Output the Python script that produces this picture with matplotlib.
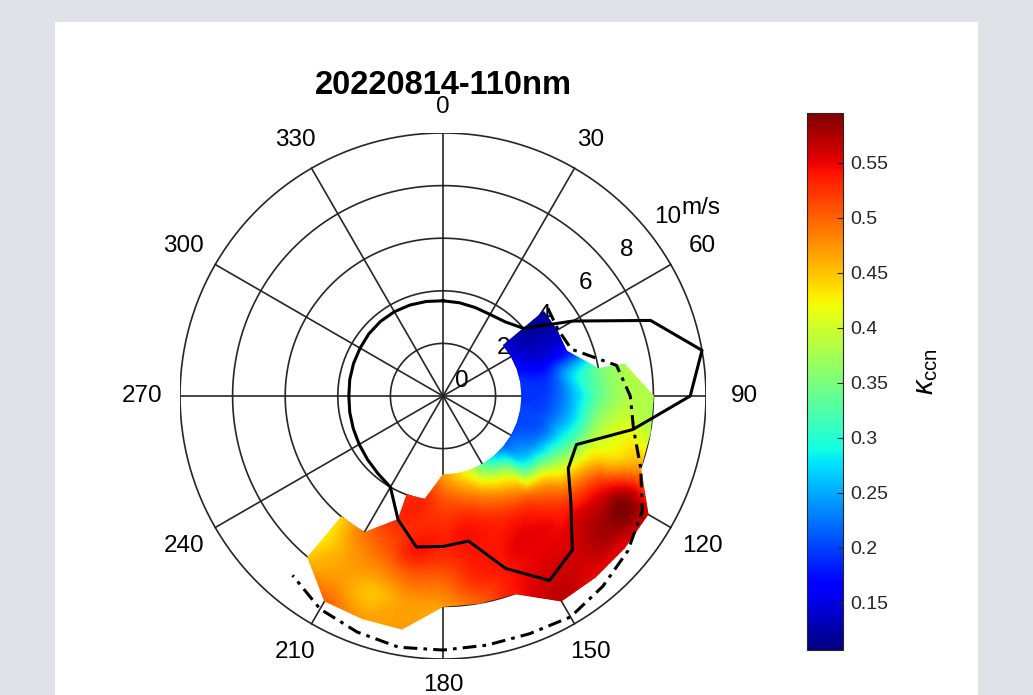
import numpy as np
import matplotlib
matplotlib.use("Agg")
import matplotlib.pyplot as plt
import matplotlib.tri as mtri
from matplotlib.patches import Rectangle

plt.rcParams['font.family'] = ['Liberation Sans', 'DejaVu Sans']
plt.rcParams['mathtext.fontset'] = 'custom'
plt.rcParams['mathtext.rm'] = 'Liberation Sans'
plt.rcParams['mathtext.it'] = 'Liberation Sans:italic'

TITLE = '20220814-110nm'

# gridded kappa field: wind direction (deg, clockwise from N) x wind speed (m/s)
directions = [50, 60, 70, 80, 90, 100, 110, 120, 130, 140, 150, 160, 170, 180, 190, 200, 210, 220]
speeds = [3, 4, 5, 6, 7, 8, 9]
nan = np.nan
kappa = [
    [0.14, 0.12, 0.12, nan, nan, nan, nan],   # 50
    [0.15, 0.13, 0.13, nan, nan, nan, nan],   # 60
    [0.17, 0.15, 0.17, nan, nan, nan, nan],   # 70
    [0.19, 0.19, 0.27, 0.34, 0.38, nan, nan],  # 80
    [0.19, 0.20, 0.26, 0.34, 0.38, 0.38, nan],  # 90
    [0.20, 0.21, 0.27, 0.37, 0.41, 0.39, nan],  # 100
    [0.20, 0.22, 0.31, 0.41, 0.44, 0.47, nan],  # 110
    [0.21, 0.25, 0.37, 0.47, 0.54, 0.59, 0.56],  # 120
    [0.22, 0.29, 0.45, 0.51, 0.56, 0.58, 0.55],  # 130
    [0.27, 0.41, 0.50, 0.54, 0.55, 0.56, 0.55],  # 140
    [0.33, 0.45, 0.52, 0.55, 0.55, 0.56, 0.57],  # 150
    [0.40, 0.48, 0.53, 0.54, 0.54, 0.54, nan],  # 160
    [0.44, 0.50, 0.54, 0.54, 0.53, 0.50, nan],  # 170
    [0.47, 0.51, 0.53, 0.53, 0.50, 0.47, nan],  # 180
    [nan, 0.53, 0.53, 0.54, 0.50, 0.47, 0.47],  # 190
    [nan, 0.53, 0.53, 0.51, 0.48, 0.45, 0.47],  # 200
    [nan, nan, nan, 0.49, 0.47, 0.47, 0.50],  # 210
    [nan, nan, nan, 0.44, 0.43, 0.45, nan],  # 220
]

# solid contour (closed)
solid_dir = [0, 10, 20, 30, 40, 50, 60, 70, 80, 90, 100, 110, 120, 130, 140, 150, 160, 170,
             180, 190, 200, 210, 220, 230, 240, 250, 260, 270, 280, 290, 300, 310, 320, 330, 340, 350]
solid_speed = [3.62, 3.6, 3.58, 3.58, 3.68, 4.0, 5.7, 8.4, 10.0, 9.4, 7.33, 5.4, 5.5, 6.35, 7.65, 8.1, 6.98, 5.6,
               5.72, 5.83, 5.0, 4.0, 3.85, 3.75, 3.68, 3.63, 3.6, 3.58, 3.6, 3.62, 3.64, 3.68, 3.7, 3.7, 3.68, 3.65]

# dash-dot contour (open)
dash_dir = [50, 60, 70, 80, 90, 100, 110, 120, 130, 140, 150, 160, 170, 180, 190, 200, 210, 220]
dash_speed = [5.2, 5.05, 5.2, 6.7, 7.12, 7.36, 8.0, 8.75, 9.17, 9.45, 9.7, 9.62, 9.62, 9.66, 9.7, 9.55, 9.35, 8.9]

angle_ticks = [0, 30, 60, 90, 120, 150, 180, 210, 240, 270, 300, 330]
ring_ticks = [2, 4, 6, 8, 10]
ring_labels = [0, 2, 4, 6, 8, 10]
cbar_ticks = [0.15, 0.2, 0.25, 0.3, 0.35, 0.4, 0.45, 0.5, 0.55]
cbar_ticklabels = ['0.15', '0.2', '0.25', '0.3', '0.35', '0.4', '0.45', '0.5', '0.55']
VMIN, VMAX = 0.107, 0.595
RMAX = 10


def pol2cart(deg, r):
    t = np.deg2rad(np.asarray(deg, dtype=float))
    r = np.asarray(r, dtype=float)
    return r * np.sin(t), r * np.cos(t)


def build_triangulation(dirs, spd, vals):
    vals = np.asarray(vals, dtype=float)
    D, S = np.meshgrid(dirs, spd, indexing='ij')
    ok = ~np.isnan(vals)
    idx = -np.ones(vals.shape, dtype=int)
    idx[ok] = np.arange(ok.sum())
    tris = []
    ni, nj = vals.shape
    for i in range(ni - 1):
        for j in range(nj - 1):
            corners = [(i, j), (i + 1, j), (i + 1, j + 1), (i, j + 1)]
            good = [idx[c] for c in corners if ok[c]]
            if len(good) == 4:
                tris.append([good[0], good[1], good[2]])
                tris.append([good[0], good[2], good[3]])
            elif len(good) == 3:
                tris.append(good)
    x, y = pol2cart(D[ok], S[ok])
    return mtri.Triangulation(x, y, np.array(tris)), vals[ok]


fig = plt.figure(figsize=(10.33, 6.95), dpi=100)
fig.patch.set_facecolor('#dfe3e8')
fig.patches.append(Rectangle((55 / 1033, 0), (978 - 55) / 1033, (695 - 22) / 695,
                             transform=fig.transFigure, facecolor='white', edgecolor='none', zorder=-5))

ax = fig.add_axes([180 / 1033, 36 / 695, 526 / 1033, 526 / 695])
ax.set_xlim(-RMAX, RMAX)
ax.set_ylim(-RMAX, RMAX)
ax.axis('off')

grid_kw = dict(color='#262626', lw=1.2, zorder=1)
circ = np.linspace(0, 360, 361)
for r in ring_ticks:
    cx, cy = pol2cart(circ, np.full_like(circ, r))
    ax.plot(cx, cy, **grid_kw)
for a in angle_ticks:
    sx, sy = pol2cart([a, a], [0, RMAX])
    ax.plot(sx, sy, **grid_kw)
    lx, ly = pol2cart(a, RMAX * 1.1 + 0.45 * abs(np.sin(np.deg2rad(a))))
    ax.text(lx, ly, str(a), ha='center', va='center', fontsize=17.5, clip_on=False)

for v in ring_labels:
    lx, ly = pol2cart(51.5, v + 0.92)
    ax.text(lx, ly, str(v), ha='center', va='center', fontsize=17.5, zorder=1)
    if v == RMAX:
        ax.annotate('m/s', xy=(lx, ly), xytext=(9.5, 6.5), textcoords='offset points',
                    ha='left', va='center', fontsize=17.5)

tri, vals = build_triangulation(directions, speeds, kappa)
interp = mtri.CubicTriInterpolator(tri, vals, kind='geom')
tri_f, vals_f = mtri.UniformTriRefiner(tri).refine_field(vals, triinterpolator=interp, subdiv=3)
tpc = ax.tripcolor(tri_f, vals_f, cmap='jet', vmin=VMIN, vmax=VMAX, shading='gouraud', zorder=2)

sd = solid_dir + [solid_dir[0] + 360]
ss = solid_speed + [solid_speed[0]]
lx, ly = pol2cart(sd, ss)
ax.plot(lx, ly, color='black', lw=2.2, zorder=3)
lx, ly = pol2cart(dash_dir, dash_speed)
ax.plot(lx, ly, color='black', lw=2.2, linestyle=(0, (4.5, 2.0, 1.2, 2.0)), zorder=3)

fig.text(443 / 1033, 1 - 86 / 695, TITLE, ha='center', va='center', fontsize=23.5, fontweight='bold')

cax = fig.add_axes([807 / 1033, 45 / 695, 36 / 1033, 537 / 695])
cb = fig.colorbar(tpc, cax=cax, ticks=cbar_ticks)
cb.ax.set_yticklabels(cbar_ticklabels)
cb.ax.tick_params(direction='in', length=4, width=0.8, labelsize=14, pad=5, colors='#262626')
cb.outline.set_linewidth(0.8)
cb.outline.set_edgecolor('#262626')
cax.set_ylabel(r'$\kappa_{\mathrm{ccn}}$', fontsize=21, rotation=90)
cax.yaxis.set_label_coords((926 - 807) / 36, 0.518)
cax.yaxis.label.set_verticalalignment('center')
cax.yaxis.label.set_horizontalalignment('center')

fig.savefig('out.png', dpi=100, facecolor=fig.get_facecolor())
